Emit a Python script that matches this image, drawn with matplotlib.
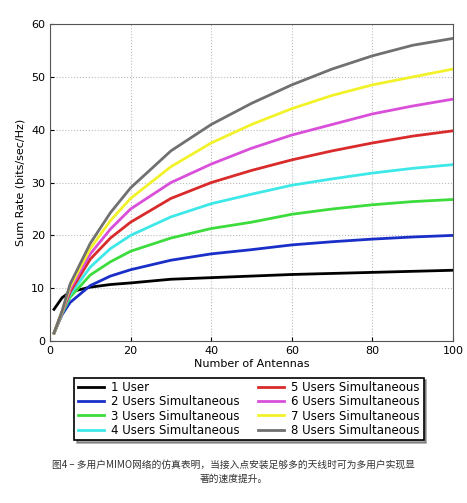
import matplotlib.pyplot as plt

plt.rcParams['font.family'] = ['DejaVu Sans', 'Noto Sans CJK SC']

antennas = [1, 3, 5, 10, 15, 20, 30, 40, 50, 60, 70, 80, 90, 100]
series = [
    ("1 User", 'black', [6, 8.2, 9.3, 10.2, 10.7, 11.0, 11.7, 12.0, 12.3, 12.6, 12.8, 13.0, 13.2, 13.4]),
    ("2 Users Simultaneous", '#1a2fc8', [1.5, 5.0, 7.3, 10.5, 12.3, 13.5, 15.3, 16.5, 17.3, 18.2, 18.8, 19.3, 19.7, 20.0]),
    ("3 Users Simultaneous", '#3ddc3d', [1.5, 5.2, 8.3, 12.5, 15.0, 17.0, 19.5, 21.3, 22.5, 24.0, 25.0, 25.8, 26.4, 26.8]),
    ("4 Users Simultaneous", '#3ee8e8', [1.5, 5.3, 8.8, 14.0, 17.5, 20.0, 23.5, 26.0, 27.8, 29.5, 30.7, 31.8, 32.7, 33.4]),
    ("5 Users Simultaneous", '#d92b2b', [1.5, 5.4, 9.3, 15.5, 19.5, 22.5, 27.0, 30.0, 32.3, 34.3, 36.0, 37.5, 38.8, 39.8]),
    ("6 Users Simultaneous", '#d94fd9', [1.5, 5.5, 9.8, 16.5, 21.2, 25.0, 30.0, 33.5, 36.5, 39.0, 41.0, 43.0, 44.5, 45.8]),
    ("7 Users Simultaneous", '#f2f22a', [1.5, 5.6, 10.3, 17.5, 22.8, 27.0, 33.0, 37.5, 41.0, 44.0, 46.5, 48.5, 50.0, 51.5]),
    ("8 Users Simultaneous", '#707070', [1.5, 5.7, 10.8, 18.5, 24.3, 29.0, 36.0, 41.0, 45.0, 48.5, 51.5, 54.0, 56.0, 57.3]),
]

fig = plt.figure(figsize=(4.67, 5.03), dpi=100)
ax = fig.add_axes([0.107, 0.322, 0.863, 0.630])
for name, color, vals in series:
    ax.plot(antennas, vals, color=color, lw=2, label=name)
ax.set_xlim(0, 100)
ax.set_ylim(0, 60)
ax.set_xticks([0, 20, 40, 60, 80, 100])
ax.grid(True, ls=':', color='#bbbbbb', lw=0.8)
for s in ax.spines.values():
    s.set_color('#555555')
ax.tick_params(labelsize=8, direction='in', length=3)
ax.set_xlabel('Number of Antennas', fontsize=8, labelpad=2)
ax.set_ylabel('Sum Rate (bits/sec/Hz)', fontsize=8)

leg = fig.legend(loc='center', bbox_to_anchor=(0.533, 0.187), ncol=2, fontsize=8.5,
                 frameon=True, fancybox=False, shadow=True, edgecolor='black',
                 handlelength=2.2, handletextpad=0.6, columnspacing=1.6,
                 labelspacing=0.1, borderpad=0.3)
leg.get_frame().set_linewidth(1.2)

fig.text(0.5, 0.062, '图4 – 多用户MIMO网络的仿真表明，当接入点安装足够多的天线时可为多用户实现显\n著的速度提升。',
         ha='center', va='center', fontsize=7, color='#333333',
         family=['Noto Sans CJK SC', 'DejaVu Sans'], linespacing=1.4)

fig.savefig('out.png', dpi=100)
